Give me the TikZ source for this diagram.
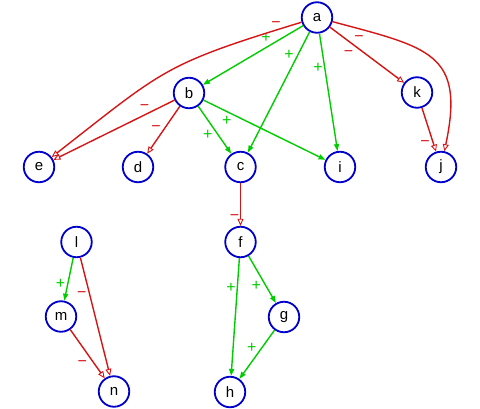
\documentclass[tikz,border=0pt]{standalone}
\usepackage{fontspec}
\setmainfont{Liberation Sans}
\usetikzlibrary{arrows.meta}
\definecolor{blue3}{RGB}{0,0,205}
\definecolor{red3}{RGB}{215,20,20}
\definecolor{green3}{RGB}{0,205,0}

\begin{document}
\begin{tikzpicture}[x=1pt, y=1pt,
		vertex/.style={circle, draw=blue3, line width=1.8pt, minimum size=30.5pt, inner sep=0pt, font=\fontsize{15}{15}\selectfont},
		posedge/.style={draw=green3, line width=1.4pt, -{Triangle[length=7pt,width=5pt]}},
		negedge/.style={draw=red3, line width=1.4pt, -{Triangle[open,line width=0.9pt,length=7pt,width=6pt]}},
		plbl/.style={auto, swap, inner sep=0.5pt, text height=10pt, text depth=0pt, text=green3, font=\fontsize{16}{16}\selectfont},
		mlbl/.style={auto, swap, inner sep=0.5pt, text height=10pt, text depth=0pt, text=red3, font=\fontsize{16}{16}\selectfont}]
		%%%%% START %%%%%
		
		\useasboundingbox (0, 0) rectangle (480, -409);
		
		\node[vertex] (a) at (317, -17.5) {a};
		\node[vertex] (b) at (189, -93) {b};
		\node[vertex] (k) at (417, -92.5) {k};
		
		\node[vertex] (e) at (39, -167) {e};
		\node[vertex] (d) at (138, -167) {d};
		\node[vertex] (c) at (240.5, -167) {c};
		\node[vertex] (i) at (340, -167) {i};
		\node[vertex] (j) at (441, -167) {j};
		
		\node[vertex] (f) at (240.5, -242) {f};
		\node[vertex] (g) at (284, -317) {g};
		\node[vertex] (h) at (230, -392) {h};
		
		\node[vertex] (l) at (76.5, -242) {l};
		\node[vertex] (m) at (61, -316.5) {m};
		\node[vertex] (n) at (114, -391.5) {n};
		
		\draw[posedge] (a) -- node[plbl, pos=.31] {+} (b);
		\draw[posedge] (a) -- node[plbl, pos=.24] {+} (c);
		\draw[posedge] (a) -- node[plbl, pos=.24] {+} (i);
		\draw[negedge] (a) -- node[mlbl, pos=.33] {−} (k);
		\draw[negedge] (a) to[out=197, in=38, looseness=1.3] node[mlbl, pos=.05] {−} (e);
		\draw[negedge] (a) to[out=-15, in=78, looseness=1.5] node[mlbl, pos=.12] {−} (j);
		
		\draw[negedge] (b) -- node[mlbl, pos=.2] {−} (e);
		\draw[negedge] (b) -- node[mlbl, pos=.55] {−} (d);
		\draw[posedge] (b) -- node[plbl, pos=.47] {+} (c);
		\draw[posedge] (b) -- node[plbl, pos=.24] {+} (i);
		\draw[negedge] (k) -- node[mlbl, pos=.63] {−} (j);
		
		\draw[negedge] (c) -- node[mlbl, pos=.75] {−} (f);
		\draw[posedge] (f) -- node[plbl, pos=.3] {+} (h);
		\draw[posedge] (f) -- node[plbl, pos=.5] {+} (g);
		\draw[posedge] (g) -- node[plbl, pos=.48] {+} (h);
		
		\draw[posedge] (l) -- node[plbl, pos=.75] {+} (m);
		\draw[negedge] (l) -- node[mlbl, pos=.24] {−} (n);
		\draw[negedge] (m) -- node[mlbl, pos=.52] {−} (n);
		
		%%%%% END %%%%%
	\end{tikzpicture}
\end{document}
